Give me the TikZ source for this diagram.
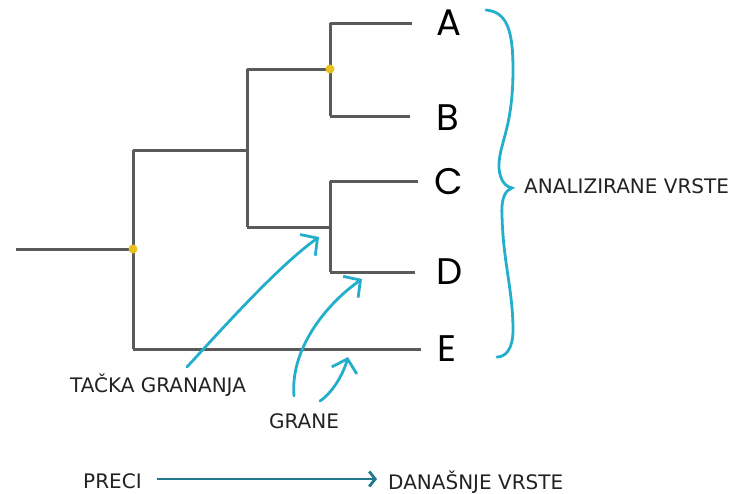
\documentclass[tikz,border=0pt]{standalone}
\usepackage{fontspec}
\setmainfont{DejaVu Sans}
\newfontfamily\tipfont{Poppins}
\usetikzlibrary{arrows.meta}
\definecolor{treegray}{HTML}{5A5A5A}
\definecolor{dotyellow}{HTML}{E8C01C}
\definecolor{cyanline}{HTML}{23AECB}
\definecolor{tealline}{HTML}{1F7A8C}
\definecolor{txt}{HTML}{222222}
\tikzset{
  branch/.style={draw=treegray, line width=3pt, line cap=butt, line join=miter},
  nodedot/.style={circle, fill=dotyellow, inner sep=0pt, minimum size=9pt},
  tiplabel/.style={font=\tipfont\fontsize{37}{37}\selectfont, text=black, inner sep=0pt},
  note/.style={font=\fontsize{20}{22}\selectfont, text=txt, inner sep=0pt},
  pointer/.style={draw=cyanline, line width=2.8pt, line cap=round,
    -{Straight Barb[length=12pt,width=26pt,line width=2.8pt]}},
}
\begin{document}
\begin{tikzpicture}[x=1pt,y=-1pt]
\useasboundingbox (0,0) rectangle (733,493);

% junctions of the tree
\coordinate (root) at (16,249);
\coordinate (r) at (133,249);
\coordinate (rt) at (133,150);
\coordinate (rb) at (133,349);
\coordinate (m) at (247,150);
\coordinate (mt) at (247,69);
\coordinate (mb) at (247,227);
\coordinate (ab) at (330,69);
\coordinate (abt) at (330,23);
\coordinate (abb) at (330,116);
\coordinate (cd) at (330,227);
\coordinate (cdt) at (330,181);
\coordinate (cdb) at (330,272);
\coordinate (ea) at (412,23);
\coordinate (eb) at (410,116);
\coordinate (ec) at (418,181);
\coordinate (ed) at (415,272);
\coordinate (ee) at (421,349);

% species labels
\node[tiplabel] (a) at (449,23) {A};
\node[tiplabel] (b) at (448,118) {B};
\node[tiplabel] (c) at (449,182) {C};
\node[tiplabel] (d) at (450,272) {D};
\node[tiplabel] (e) at (447,349) {E};

% branches
\draw[branch] (root) -- (r);
\draw[branch] (rt) -- (rb);
\draw[branch] (rt) -- (m);
\draw[branch] (mt) -- (mb);
\draw[branch] (mt) -- (ab);
\draw[branch] (abt) -- (abb);
\draw[branch] (abt) -- (ea);
\draw[branch] (abb) -- (eb);
\draw[branch] (mb) -- (cd);
\draw[branch] (cdt) -- (cdb);
\draw[branch] (cdt) -- (ec);
\draw[branch] (cdb) -- (ed);
\draw[branch] (rb) -- (ee);

% branching points
\node[nodedot] (dot1) at (ab) {};
\node[nodedot] (dot2) at (r) {};

% brace around the analysed species
\draw[draw=cyanline, line width=2.8pt, line cap=round]
  (486,10) .. controls (507,12) and (513,30) .. (513,70)
  .. controls (513,130) and (498,145) .. (499,168)
  .. controls (500,181) and (506,187) .. (512,188)
  .. controls (506,190) and (501,197) .. (502,215)
  .. controls (503,262) and (513,290) .. (513,330)
  .. controls (513,350) and (505,357) .. (497,357);
\node[note, anchor=west] (analyzed) at (524,186) {ANALIZIRANE VRSTE};

% labels and pointers
\node[note] (tacka) at (158,385) {TAČKA GRANANJA};
\node[note] (grane) at (304,421) {GRANE};
\coordinate (tackaend) at (319,237);
\coordinate (grane1) at (362,279);
\coordinate (grane2) at (348,357);
\coordinate (tackastart) at (187,367);
\coordinate (granestart1) at (294,396);
\coordinate (granestart2) at (320,401);
\draw[pointer] (tackastart) .. controls (230,320) and (280,265) .. (tackaend);
\draw[pointer] (granestart1) .. controls (290,350) and (325,305) .. (grane1);
\draw[pointer] (granestart2) .. controls (332,393) and (343,375) .. (grane2);

% time axis
\node[note, anchor=west] (preci) at (83,481) {PRECI};
\node[note, anchor=west] (danas) at (388,482) {DANAŠNJE VRSTE};
\draw[draw=tealline, line width=2.8pt,
  -{Straight Barb[length=6pt,width=15pt,line width=2.8pt]}]
  (157,479) -- (377,479);
\end{tikzpicture}
\end{document}
